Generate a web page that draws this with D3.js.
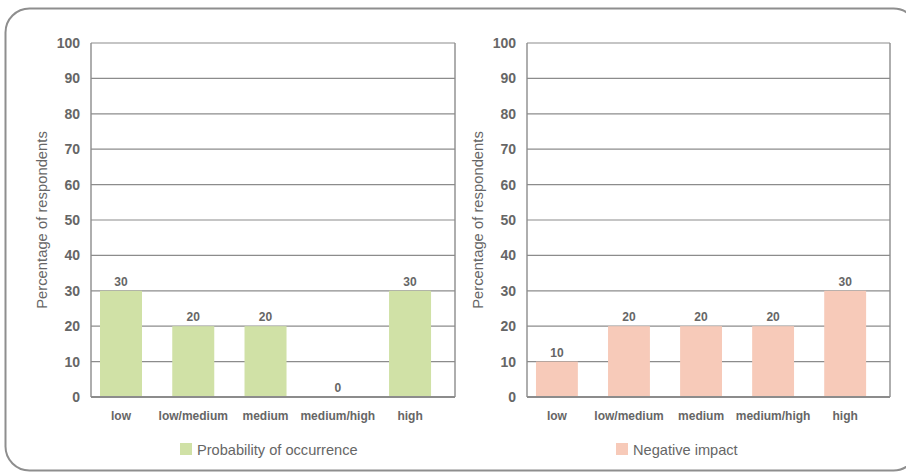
<!DOCTYPE html>
<html>
<head>
<meta charset="utf-8">
<script src="https://cdn.jsdelivr.net/npm/d3@7/dist/d3.min.js"></script>
<style>
html,body{margin:0;padding:0;background:#fff;}
svg{display:block;}
</style>
</head>
<body>
<script>
const categories = ["low", "low/medium", "medium", "medium/high", "high"];
const probabilityValues = [30, 20, 20, 0, 30];
const impactValues = [10, 20, 20, 20, 30];
const yTicks = [0, 10, 20, 30, 40, 50, 60, 70, 80, 90, 100];
const seriesNames = ["Probability of occurrence", "Negative impact"];
const seriesColors = ["#d0e1a6", "#f7cab9"];
const yTitle = "Percentage of respondents";

const W = 906, H = 474;
const textColor = "#666666";
const lineColor = "#8c8c8c";

const svg = d3.select("body").append("svg").attr("width", W).attr("height", H);

// outer rounded frame
svg.append("rect")
  .attr("x", 5.5).attr("y", 8.5)
  .attr("width", 912).attr("height", 462)
  .attr("rx", 24).attr("ry", 24)
  .attr("fill", "none").attr("stroke", "#8e8e8e").attr("stroke-width", 2);

function drawChart(x0, x1, values, name, color) {
  const top = 43, bottom = 397;
  const g = svg.append("g");
  const x = d3.scaleBand().domain(categories).range([x0, x1])
    .paddingInner(0.4187).paddingOuter(0.228).align(0.273);
  const y = d3.scaleLinear().domain([0, 100]).range([bottom, top]);

  // gridlines
  g.selectAll("line.grid").data(yTicks).join("line")
    .attr("class", "grid")
    .attr("x1", x0).attr("x2", x1)
    .attr("y1", d => y(d)).attr("y2", d => y(d))
    .attr("stroke", lineColor).attr("stroke-width", d => d === 0 ? 1.8 : 1.2);
  // frame verticals
  [x0, x1].forEach(xx => {
    g.append("line").attr("x1", xx).attr("x2", xx).attr("y1", top).attr("y2", bottom)
      .attr("stroke", lineColor).attr("stroke-width", 1.4);
  });

  // bars
  g.selectAll("rect.bar").data(values).join("rect")
    .attr("class", "bar")
    .attr("x", (d, i) => x(categories[i]))
    .attr("width", x.bandwidth())
    .attr("y", d => y(d))
    .attr("height", d => Math.max(0, y(0) - y(d) - 1))
    .attr("fill", color);

  // value labels
  g.selectAll("text.val").data(values).join("text")
    .attr("class", "val")
    .attr("x", (d, i) => x(categories[i]) + x.bandwidth() / 2)
    .attr("y", d => y(d) - 5)
    .attr("text-anchor", "middle")
    .attr("font-family", "Liberation Sans, Arial, sans-serif")
    .attr("font-weight", "bold").attr("font-size", 12)
    .attr("fill", textColor)
    .text(d => d);

  // y axis ticks labels
  const yAxis = d3.axisLeft(y).tickValues(yTicks).tickSize(0).tickPadding(11);
  const ya = g.append("g").attr("transform", `translate(${x0},0)`).call(yAxis);
  ya.select(".domain").remove();
  ya.selectAll("text")
    .attr("font-family", "Liberation Sans, Arial, sans-serif")
    .attr("font-weight", "bold").attr("font-size", 14)
    .attr("fill", textColor);

  // x axis labels
  const xAxis = d3.axisBottom(x).tickSize(0).tickPadding(14);
  const xa = g.append("g").attr("transform", `translate(0,${bottom})`).call(xAxis);
  xa.select(".domain").remove();
  xa.selectAll("text")
    .attr("font-family", "Liberation Sans, Arial, sans-serif")
    .attr("font-weight", "bold").attr("font-size", 12)
    .attr("fill", textColor);

  // y title
  g.append("text")
    .attr("transform", `translate(${x0 - 44},${(top + bottom) / 2}) rotate(-90)`)
    .attr("text-anchor", "middle")
    .attr("font-family", "Liberation Sans, Arial, sans-serif")
    .attr("font-size", 14.8)
    .attr("fill", textColor)
    .text(yTitle);

  // legend
  const lg = g.append("g").attr("transform", `translate(${x0 + 89},443)`);
  lg.append("rect").attr("width", 12).attr("height", 12).attr("fill", color);
  lg.append("text").attr("x", 17).attr("y", 11.5)
    .attr("font-family", "Liberation Sans, Arial, sans-serif")
    .attr("font-size", 14.6)
    .attr("fill", textColor)
    .text(name);
}

drawChart(91, 455, probabilityValues, seriesNames[0], seriesColors[0]);
drawChart(527, 890, impactValues, seriesNames[1], seriesColors[1]);
</script>
</body>
</html>
